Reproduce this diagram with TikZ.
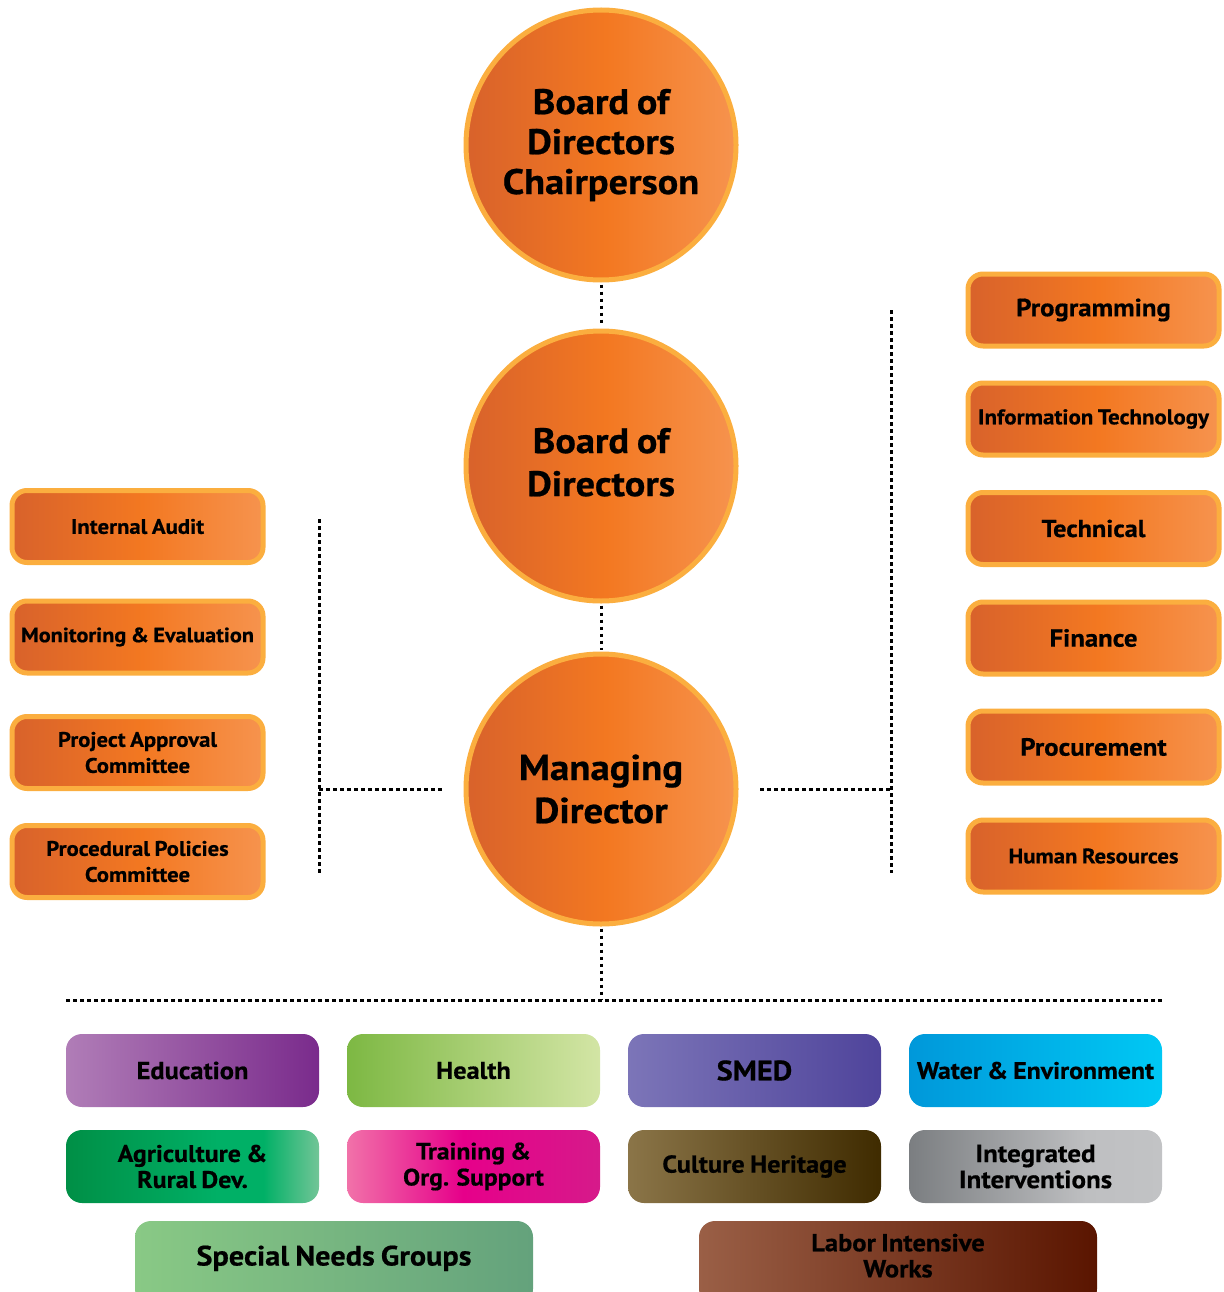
\documentclass[tikz,border=0pt]{standalone}
\usepackage{fontspec}
\setmainfont{PT Sans}[FakeStretch=1.08, WordSpace=0.8, BoldFeatures={FakeBold=0.6}]
\definecolor{ring}{HTML}{FBAE3F}
\definecolor{orA}{HTML}{D8622B}
\definecolor{orB}{HTML}{F37821}
\definecolor{orC}{HTML}{F6934E}
\definecolor{eduA}{HTML}{B07DB7}\definecolor{eduB}{HTML}{7A2B8C}
\definecolor{heaA}{HTML}{7DB843}\definecolor{heaB}{HTML}{D3E5A5}
\definecolor{smeA}{HTML}{7C75B8}\definecolor{smeB}{HTML}{4F449B}
\definecolor{watA}{HTML}{0098DA}\definecolor{watB}{HTML}{00C8F4}
\definecolor{agrA}{HTML}{008F46}\definecolor{agrB}{HTML}{00B066}\definecolor{agrC}{HTML}{72C597}
\definecolor{traA}{HTML}{F172A9}\definecolor{traB}{HTML}{E6008A}\definecolor{traC}{HTML}{D61A8A}
\definecolor{culA}{HTML}{8B7548}\definecolor{culB}{HTML}{3F2B00}
\definecolor{intA}{HTML}{7B7E81}\definecolor{intB}{HTML}{BEBFC1}\definecolor{intC}{HTML}{C2C3C5}
\definecolor{speA}{HTML}{89C985}\definecolor{speB}{HTML}{64A27C}
\definecolor{labA}{HTML}{9A5F46}\definecolor{labB}{HTML}{5A1500}
\pgfdeclarehorizontalshading{orng}{100bp}{color(0bp)=(orA); color(25bp)=(orA); color(51bp)=(orB); color(75bp)=(orC); color(100bp)=(orC)}
\pgfdeclarehorizontalshading{edu}{100bp}{color(0bp)=(eduA); color(25bp)=(eduA); color(75bp)=(eduB); color(100bp)=(eduB)}
\pgfdeclarehorizontalshading{hea}{100bp}{color(0bp)=(heaA); color(25bp)=(heaA); color(75bp)=(heaB); color(100bp)=(heaB)}
\pgfdeclarehorizontalshading{sme}{100bp}{color(0bp)=(smeA); color(25bp)=(smeA); color(75bp)=(smeB); color(100bp)=(smeB)}
\pgfdeclarehorizontalshading{wat}{100bp}{color(0bp)=(watA); color(25bp)=(watA); color(75bp)=(watB); color(100bp)=(watB)}
\pgfdeclarehorizontalshading{agr}{100bp}{color(0bp)=(agrA); color(25bp)=(agrA); color(55bp)=(agrB); color(64bp)=(agrB); color(75bp)=(agrC); color(100bp)=(agrC)}
\pgfdeclarehorizontalshading{tra}{100bp}{color(0bp)=(traA); color(25bp)=(traA); color(48bp)=(traB); color(75bp)=(traC); color(100bp)=(traC)}
\pgfdeclarehorizontalshading{cul}{100bp}{color(0bp)=(culA); color(25bp)=(culA); color(75bp)=(culB); color(100bp)=(culB)}
\pgfdeclarehorizontalshading{int}{100bp}{color(0bp)=(intA); color(25bp)=(intA); color(60bp)=(intB); color(75bp)=(intC); color(100bp)=(intC)}
\pgfdeclarehorizontalshading{spe}{100bp}{color(0bp)=(speA); color(25bp)=(speA); color(75bp)=(speB); color(100bp)=(speB)}
\pgfdeclarehorizontalshading{lab}{100bp}{color(0bp)=(labA); color(25bp)=(labA); color(75bp)=(labB); color(100bp)=(labB)}
\newcommand{\lowpad}{\rule[-15pt]{0pt}{1pt}}
\tikzset{
  bigcircle/.style={circle, shading=orng, draw=ring, line width=5pt, minimum size=270pt, inner sep=0pt, align=center, font=\bfseries\fontsize{35.5}{40}\selectfont},
  obox/.style={rounded corners=15pt, shading=orng, draw=ring, line width=5pt, minimum width=251pt, minimum height=72pt, inner sep=0pt, align=center},
  cbox/.style={rounded corners=16pt, minimum width=253pt, minimum height=73pt, inner sep=0pt, align=center},
  wbox/.style={rounded corners=16pt, minimum width=398pt, minimum height=84pt, inner sep=0pt, align=center},
  dots/.style={line width=3pt, dash pattern=on 3.5pt off 3.5pt},
  fa/.style={font=\bfseries\fontsize{#1}{26}\selectfont}
}
\begin{document}
\begin{tikzpicture}[x=1pt,y=-1pt]
\useasboundingbox (0,0) rectangle (1223,1292);
\clip (0,0) rectangle (1223,1292);
% circles
\node[bigcircle] (chair) at (601,145) {Board of\\Directors\\Chairperson};
\node[bigcircle, font=\bfseries\fontsize{35.5}{43}\selectfont] (bod) at (601,466) {Board of\\Directors\rule[-8pt]{0pt}{1pt}};
\node[bigcircle, font=\bfseries\fontsize{36}{43}\selectfont] (md) at (601,789) {Managing\\Director};
% connector coordinates
\coordinate (lv1) at (319,519);
\coordinate (lv2) at (319,873);
\coordinate (lh) at (319,789);
\coordinate (lh2) at (443,789);
\coordinate (rv1) at (891,310);
\coordinate (rv2) at (891,873);
\coordinate (rh) at (891,789);
\coordinate (rh2) at (760,789);
\coordinate (bl) at (66,1000);
\coordinate (br) at (1163,1000);
\coordinate (bm) at (601,1000);
\draw[dots] ([yshift=-2pt]chair.south) -- ([yshift=2pt]bod.north);
\draw[dots] ([yshift=-2pt]bod.south) -- ([yshift=2pt]md.north);
\draw[dots] ([yshift=-2pt]md.south) -- (bm);
\draw[dots] (bl) -- (br);
\draw[dots] (lv1) -- (lv2);
\draw[dots] (lh) -- (lh2);
\draw[dots] (rv1) -- (rv2);
\draw[dots] (rh2) -- (rh);
% left boxes
\node[obox, fa=21] (ia) at (137.5,526.5) {Internal Audit};
\node[obox, fa=20.6] (me) at (137.5,637) {Monitoring \& Evaluation};
\node[obox, fa=21] (pac) at (137.5,752.5) {Project Approval\\Committee};
\node[obox, fa=21] (ppc) at (137.5,861.5) {Procedural Policies\\Committee};
% right boxes
\node[obox, fa=24.8] (prog) at (1093.5,310) {Programming};
\node[obox, fa=21.2] (it) at (1093.5,419) {Information Technology};
\node[obox, fa=24.3] (tech) at (1093.5,528.5) {Technical};
\node[obox, fa=24.8] (fin) at (1093.5,638) {Finance};
\node[obox, fa=24.8] (proc) at (1093.5,747) {Procurement};
\node[obox, fa=21] (hr) at (1093.5,856) {Human Resources};
% bottom boxes
\node[cbox, shading=edu, fa=24.5] (edu) at (192.5,1070.5) {Education};
\node[cbox, shading=hea, fa=24.3] (hea) at (473.5,1070.5) {Health};
\node[cbox, shading=sme, fa=28] (sme) at (754.5,1070.5) {SMED};
\node[cbox, shading=wat, fa=23.9] (wat) at (1035.5,1070.5) {Water \& Environment};
\node[cbox, shading=agr, fa=24] (agr) at (192.5,1166.5) {Agriculture \&\\Rural Dev.};
\node[cbox, shading=tra, fa=23.7] (tra) at (473.5,1166.5) {Training \&\\Org. Support};
\node[cbox, shading=cul, fa=24.4] (cul) at (754.5,1166.5) {Culture Heritage};
\node[cbox, shading=int, fa=25] (int) at (1035.5,1166.5) {Integrated\\Interventions};
\node[wbox, shading=spe, fa=28] (spe) at (334,1263) {Special Needs Groups\lowpad};
\node[wbox, shading=lab, fa=24.6] (lab) at (898,1263) {Labor Intensive\\Works\lowpad};
\end{tikzpicture}
\end{document}
